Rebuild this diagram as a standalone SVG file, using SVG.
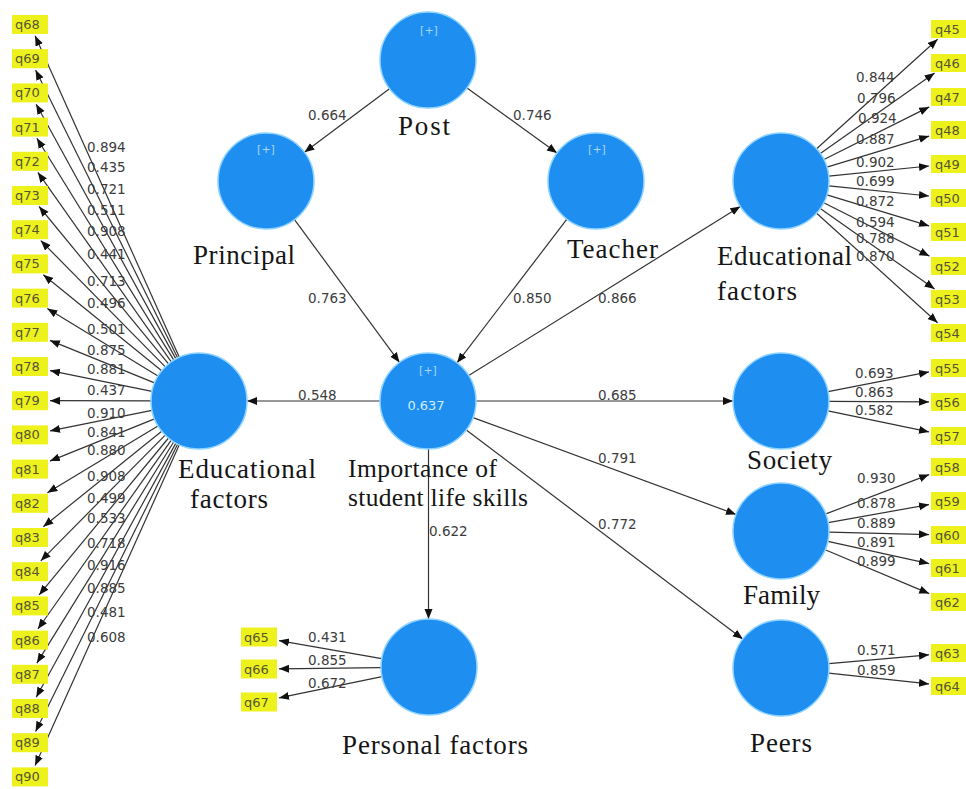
<svg xmlns="http://www.w3.org/2000/svg" width="966" height="789" viewBox="0 0 966 789">
<defs>
<marker id="ah" markerUnits="userSpaceOnUse" markerWidth="11" markerHeight="9" refX="10" refY="4" orient="auto"><path d="M0,0 L10,4 L0,8 z" fill="#111"/></marker>
<style>
.lv circle{fill:#1e8ff0;stroke:#8fd3ff;stroke-width:1.5}
.lbl{font-family:"Liberation Serif","Times New Roman",serif;font-size:27px;fill:#151515}
.sm{font-size:25.5px}
.plus{font-family:"DejaVu Sans",sans-serif;font-size:11px;fill:#a9d6ff;text-anchor:middle}
.r2{font-family:"DejaVu Sans",sans-serif;font-size:13px;fill:#d4ecff;text-anchor:middle}
.ind rect{fill:#eef21c}
.ind text{font-family:"DejaVu Sans",sans-serif;font-size:13px;fill:#555533}
.ld{font-family:"DejaVu Sans",sans-serif;font-size:13.5px;fill:#3c3c3c}
.cn line{stroke:#333;stroke-width:1.2;marker-end:url(#ah)}
</style>
</defs>
<rect width="966" height="789" fill="#fff"/>

<g id="connectors" class="cn">
<line x1="389.5" y1="88.7" x2="304.5" y2="152.3"/>
<line x1="467" y1="88" x2="557" y2="153"/>
<line x1="294.5" y1="219.6" x2="399.5" y2="362.4"/>
<line x1="566.9" y1="219.2" x2="457.1" y2="362.8"/>
<line x1="468.7" y1="375.6" x2="740.3" y2="206.4"/>
<line x1="380" y1="401" x2="247" y2="401"/>
<line x1="476" y1="401" x2="733" y2="401"/>
<line x1="473" y1="417.6" x2="736" y2="514.4"/>
<line x1="466.3" y1="430" x2="742.7" y2="639"/>
<line x1="428.5" y1="449" x2="428.5" y2="619"/>
<line x1="179.3" y1="357.2" x2="35.1" y2="35.8"/>
<line x1="177.7" y1="358" x2="35.6" y2="70"/>
<line x1="175.9" y1="358.9" x2="36.2" y2="104.2"/>
<line x1="173.8" y1="360.1" x2="36.9" y2="138.3"/>
<line x1="171.3" y1="361.8" x2="37.9" y2="172.4"/>
<line x1="168.5" y1="363.9" x2="39.1" y2="206.5"/>
<line x1="165.3" y1="366.8" x2="40.8" y2="240.6"/>
<line x1="161.7" y1="370.8" x2="43.3" y2="274.7"/>
<line x1="158" y1="376" x2="47.3" y2="308.6"/>
<line x1="154.5" y1="382.9" x2="49.9" y2="340.4"/>
<line x1="152" y1="391.4" x2="50" y2="370.6"/>
<line x1="151" y1="400.8" x2="50" y2="400.7"/>
<line x1="151.9" y1="410.4" x2="50" y2="430.9"/>
<line x1="154.5" y1="418.9" x2="49.9" y2="461.1"/>
<line x1="157.9" y1="425.9" x2="47.4" y2="492.8"/>
<line x1="161.7" y1="431.2" x2="43.3" y2="526.7"/>
<line x1="165.2" y1="435.1" x2="40.8" y2="560.8"/>
<line x1="168.5" y1="438" x2="39.1" y2="594.9"/>
<line x1="171.3" y1="440.2" x2="37.9" y2="629"/>
<line x1="173.8" y1="441.8" x2="36.9" y2="663.1"/>
<line x1="175.9" y1="443.1" x2="36.2" y2="697.2"/>
<line x1="177.7" y1="444" x2="35.6" y2="731.4"/>
<line x1="179.3" y1="444.8" x2="35.1" y2="765.6"/>
<line x1="816.6" y1="148.8" x2="937.6" y2="39.3"/>
<line x1="820.3" y1="153.4" x2="934.6" y2="73.1"/>
<line x1="823.9" y1="159.5" x2="929.2" y2="106.9"/>
<line x1="826.9" y1="167.1" x2="929.1" y2="136.1"/>
<line x1="828.8" y1="176.2" x2="929" y2="166"/>
<line x1="828.8" y1="185.8" x2="929" y2="196"/>
<line x1="826.9" y1="194.9" x2="929.1" y2="225.9"/>
<line x1="823.8" y1="202.7" x2="929.4" y2="256.1"/>
<line x1="820.3" y1="208.6" x2="934.6" y2="288.9"/>
<line x1="816.6" y1="213.2" x2="937.6" y2="322.7"/>
<line x1="828.1" y1="391.7" x2="929" y2="371.9"/>
<line x1="829" y1="401.3" x2="929" y2="401.9"/>
<line x1="828" y1="410.8" x2="929" y2="431.9"/>
<line x1="825.9" y1="513.9" x2="929.1" y2="474.6"/>
<line x1="828.2" y1="522.6" x2="929" y2="504.6"/>
<line x1="829" y1="532.1" x2="929" y2="534.6"/>
<line x1="827.9" y1="541.3" x2="929" y2="563.6"/>
<line x1="825.2" y1="549.7" x2="929.2" y2="593.6"/>
<line x1="828.8" y1="663.7" x2="929" y2="654.8"/>
<line x1="828.7" y1="673.1" x2="929" y2="683.9"/>
<line x1="381.7" y1="658.7" x2="279" y2="640.6"/>
<line x1="381" y1="667.6" x2="279" y2="668.8"/>
<line x1="382" y1="676.7" x2="279" y2="697.9"/>
</g>

<g id="loadings" class="ld">
<text x="308" y="120">0.664</text>
<text x="513" y="120">0.746</text>
<text x="308" y="303">0.763</text>
<text x="513" y="303">0.850</text>
<text x="598" y="303">0.866</text>
<text x="298" y="400">0.548</text>
<text x="598" y="400">0.685</text>
<text x="598" y="463">0.791</text>
<text x="598" y="529">0.772</text>
<text x="429" y="536">0.622</text>
<text x="87" y="152">0.894</text>
<text x="87" y="172">0.435</text>
<text x="87" y="194">0.721</text>
<text x="87" y="215">0.511</text>
<text x="87" y="236">0.908</text>
<text x="87" y="259">0.441</text>
<text x="87" y="286">0.713</text>
<text x="87" y="308">0.496</text>
<text x="87" y="334">0.501</text>
<text x="87" y="355">0.875</text>
<text x="87" y="374">0.881</text>
<text x="87" y="395">0.437</text>
<text x="87" y="418">0.910</text>
<text x="87" y="437">0.841</text>
<text x="87" y="455">0.880</text>
<text x="87" y="481">0.908</text>
<text x="87" y="503">0.499</text>
<text x="87" y="523">0.533</text>
<text x="87" y="548">0.718</text>
<text x="87" y="570">0.916</text>
<text x="87" y="593">0.885</text>
<text x="87" y="617">0.481</text>
<text x="87" y="642">0.608</text>
<text x="856" y="82">0.844</text>
<text x="857" y="103">0.796</text>
<text x="858" y="123">0.924</text>
<text x="856" y="144">0.887</text>
<text x="856" y="167">0.902</text>
<text x="856" y="186">0.699</text>
<text x="856" y="206">0.872</text>
<text x="856" y="227">0.594</text>
<text x="856" y="243">0.788</text>
<text x="856" y="261">0.870</text>
<text x="855" y="378">0.693</text>
<text x="855" y="397">0.863</text>
<text x="855" y="415">0.582</text>
<text x="857" y="483">0.930</text>
<text x="857" y="508">0.878</text>
<text x="857" y="528">0.889</text>
<text x="857" y="547">0.891</text>
<text x="857" y="566">0.899</text>
<text x="857" y="655">0.571</text>
<text x="857" y="675">0.859</text>
<text x="308" y="642">0.431</text>
<text x="308" y="665">0.855</text>
<text x="308" y="688">0.672</text>
</g>

<g id="post" class="lv"><circle cx="428" cy="60" r="48"/><text class="plus" x="429" y="34">[+]</text><text class="lbl" x="398" y="135" textLength="52">Post</text></g>
<g id="principal" class="lv"><circle cx="266" cy="181" r="48"/><text class="plus" x="266" y="153">[+]</text><text class="lbl" x="193" y="264" textLength="102">Principal</text></g>
<g id="teacher" class="lv"><circle cx="596" cy="181" r="48"/><text class="plus" x="597" y="153">[+]</text><text class="lbl" x="567" y="258" textLength="91">Teacher</text></g>
<g id="importance" class="lv"><circle cx="428" cy="401" r="48"/><text class="plus" x="428" y="374">[+]</text><text class="r2" x="426" y="410">0.637</text><text class="lbl sm" x="348" y="477" textLength="149">Importance of</text><text class="lbl sm" x="348" y="506" textLength="180">student life skills</text></g>
<g id="edu-left" class="lv"><circle cx="199" cy="401" r="48"/><text class="lbl" x="178" y="478" textLength="138">Educational</text><text class="lbl" x="190" y="508" textLength="78">factors</text></g>
<g id="edu-right" class="lv"><circle cx="781" cy="181" r="48"/><text class="lbl" x="717" y="265" textLength="135">Educational</text><text class="lbl" x="717" y="300" textLength="80">factors</text></g>
<g id="society" class="lv"><circle cx="781" cy="401" r="48"/><text class="lbl" x="747" y="469" textLength="85">Society</text></g>
<g id="family" class="lv"><circle cx="781" cy="531" r="48"/><text class="lbl" x="743" y="604" textLength="77">Family</text></g>
<g id="peers" class="lv"><circle cx="781" cy="668" r="48"/><text class="lbl" x="750" y="752" textLength="62">Peers</text></g>
<g id="personal" class="lv"><circle cx="429" cy="667" r="48"/><text class="lbl" x="342" y="754" textLength="186">Personal factors</text></g>

<g class="ind">
<g id="q68"><rect x="12" y="15" width="36" height="19"/><text x="15" y="29">q68</text></g>
<g id="q69"><rect x="12" y="49.2" width="36" height="19"/><text x="15" y="63.2">q69</text></g>
<g id="q70"><rect x="12" y="83.4" width="36" height="19"/><text x="15" y="97.4">q70</text></g>
<g id="q71"><rect x="12" y="117.6" width="36" height="19"/><text x="15" y="131.6">q71</text></g>
<g id="q72"><rect x="12" y="151.8" width="36" height="19"/><text x="15" y="165.8">q72</text></g>
<g id="q73"><rect x="12" y="186" width="36" height="19"/><text x="15" y="200">q73</text></g>
<g id="q74"><rect x="12" y="220.2" width="36" height="19"/><text x="15" y="234.2">q74</text></g>
<g id="q75"><rect x="12" y="254.4" width="36" height="19"/><text x="15" y="268.4">q75</text></g>
<g id="q76"><rect x="12" y="288.6" width="36" height="19"/><text x="15" y="302.6">q76</text></g>
<g id="q77"><rect x="12" y="322.8" width="36" height="19"/><text x="15" y="336.8">q77</text></g>
<g id="q78"><rect x="12" y="357" width="36" height="19"/><text x="15" y="371">q78</text></g>
<g id="q79"><rect x="12" y="391.2" width="36" height="19"/><text x="15" y="405.2">q79</text></g>
<g id="q80"><rect x="12" y="425.4" width="36" height="19"/><text x="15" y="439.4">q80</text></g>
<g id="q81"><rect x="12" y="459.6" width="36" height="19"/><text x="15" y="473.6">q81</text></g>
<g id="q82"><rect x="12" y="493.8" width="36" height="19"/><text x="15" y="507.8">q82</text></g>
<g id="q83"><rect x="12" y="528" width="36" height="19"/><text x="15" y="542">q83</text></g>
<g id="q84"><rect x="12" y="562.2" width="36" height="19"/><text x="15" y="576.2">q84</text></g>
<g id="q85"><rect x="12" y="596.4" width="36" height="19"/><text x="15" y="610.4">q85</text></g>
<g id="q86"><rect x="12" y="630.6" width="36" height="19"/><text x="15" y="644.6">q86</text></g>
<g id="q87"><rect x="12" y="664.8" width="36" height="19"/><text x="15" y="678.8">q87</text></g>
<g id="q88"><rect x="12" y="699" width="36" height="19"/><text x="15" y="713">q88</text></g>
<g id="q89"><rect x="12" y="733.2" width="36" height="19"/><text x="15" y="747.2">q89</text></g>
<g id="q90"><rect x="12" y="767.4" width="36" height="19"/><text x="15" y="781.4">q90</text></g>
<g id="q45"><rect x="931" y="20" width="40" height="18"/><text x="935" y="33.5">q45</text></g>
<g id="q46"><rect x="931" y="54" width="40" height="18"/><text x="935" y="67.5">q46</text></g>
<g id="q47"><rect x="931" y="88" width="40" height="18"/><text x="935" y="101.5">q47</text></g>
<g id="q48"><rect x="931" y="121" width="40" height="18"/><text x="935" y="134.5">q48</text></g>
<g id="q49"><rect x="931" y="155" width="40" height="18"/><text x="935" y="168.5">q49</text></g>
<g id="q50"><rect x="931" y="189" width="40" height="18"/><text x="935" y="202.5">q50</text></g>
<g id="q51"><rect x="931" y="223" width="40" height="18"/><text x="935" y="236.5">q51</text></g>
<g id="q52"><rect x="931" y="257" width="40" height="18"/><text x="935" y="270.5">q52</text></g>
<g id="q53"><rect x="931" y="290" width="40" height="18"/><text x="935" y="303.5">q53</text></g>
<g id="q54"><rect x="931" y="324" width="40" height="18"/><text x="935" y="337.5">q54</text></g>
<g id="q55"><rect x="931" y="359" width="40" height="18"/><text x="935" y="372.5">q55</text></g>
<g id="q56"><rect x="931" y="393" width="40" height="18"/><text x="935" y="406.5">q56</text></g>
<g id="q57"><rect x="931" y="427" width="40" height="18"/><text x="935" y="440.5">q57</text></g>
<g id="q58"><rect x="931" y="458" width="40" height="18"/><text x="935" y="471.5">q58</text></g>
<g id="q59"><rect x="931" y="492" width="40" height="18"/><text x="935" y="505.5">q59</text></g>
<g id="q60"><rect x="931" y="526" width="40" height="18"/><text x="935" y="539.5">q60</text></g>
<g id="q61"><rect x="931" y="559" width="40" height="18"/><text x="935" y="572.5">q61</text></g>
<g id="q62"><rect x="931" y="593" width="40" height="18"/><text x="935" y="606.5">q62</text></g>
<g id="q63"><rect x="931" y="644" width="40" height="18"/><text x="935" y="657.5">q63</text></g>
<g id="q64"><rect x="931" y="677" width="40" height="18"/><text x="935" y="690.5">q64</text></g>
<g id="q65"><rect x="241" y="627.5" width="36" height="19"/><text x="244" y="641.5">q65</text></g>
<g id="q66"><rect x="241" y="659.5" width="36" height="19"/><text x="244" y="673.5">q66</text></g>
<g id="q67"><rect x="241" y="692.5" width="36" height="19"/><text x="244" y="706.5">q67</text></g>
</g>
</svg>
